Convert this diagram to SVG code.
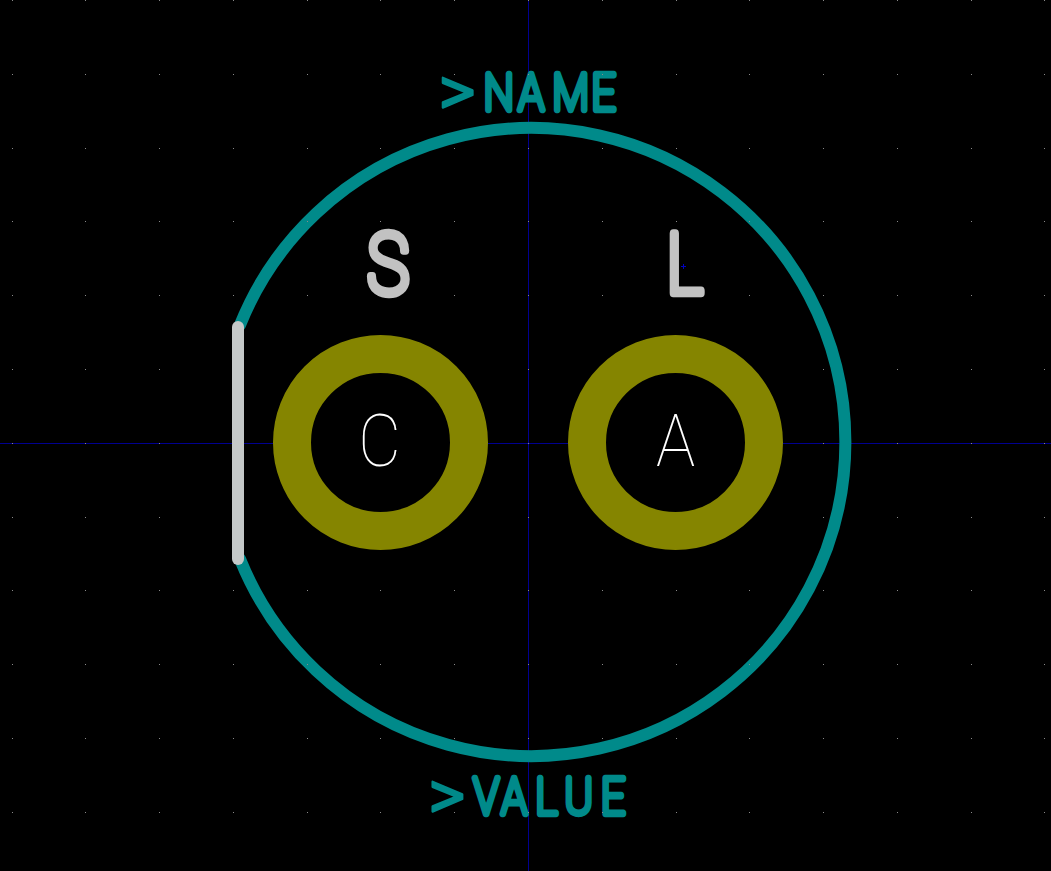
<svg xmlns="http://www.w3.org/2000/svg" width="1051" height="871" viewBox="0 0 1051 871">
<style>
.t{font-family:Roboto,"Liberation Sans",sans-serif;font-weight:100;fill:#008a8a;stroke:#008a8a;stroke-width:6;stroke-linejoin:round;stroke-linecap:round;vector-effect:non-scaling-stroke;font-size:50px}
.gt{font-family:"DejaVu Sans",sans-serif;font-weight:400;font-size:56px;stroke-width:2.5px}
.g{font-family:Roboto,"Liberation Sans",sans-serif;font-weight:100;fill:#c2c2c2;stroke:#c2c2c2;stroke-width:8;stroke-linejoin:round;stroke-linecap:round;vector-effect:non-scaling-stroke;font-size:83px}
.w{font-family:Roboto,"Liberation Sans",sans-serif;font-weight:100;fill:#fff;font-size:73px}
.pad{fill:#000;stroke:#858500;stroke-width:38}
</style>
<defs><path id="row" fill="#8a8a8a" d="M12 0h1v1h-1zM85 0h1v1h-1zM159 0h1v1h-1zM233 0h1v1h-1zM307 0h1v1h-1zM380 0h1v1h-1zM454 0h1v1h-1zM528 0h1v1h-1zM602 0h1v1h-1zM676 0h1v1h-1zM749 0h1v1h-1zM823 0h1v1h-1zM897 0h1v1h-1zM971 0h1v1h-1zM1044 0h1v1h-1z"/></defs>
<rect width="1051" height="871" fill="#000"/>
<g id="axes">
<rect x="0" y="443" width="1051" height="1" fill="#000090"/>
<rect x="528" y="0" width="1" height="871" fill="#000090"/>
</g>
<g id="outline">
<path d="M240 325A314 314 0 1 1 240 559" fill="none" stroke="#008a8a" stroke-width="12" stroke-linecap="round"/>
</g>
<g id="labels">
<text class="t" transform="scale(.85,1)" y="110" x="515 569 610 650 696"><tspan class="gt">&gt;</tspan>NAME</text>
<text class="t" transform="scale(.85,1)" y="814" x="503 557 590 630 664 707"><tspan class="gt">&gt;</tspan>VALUE</text>
</g>
<g id="grid">
<use href="#row" y="0"/><use href="#row" y="74"/><use href="#row" y="148"/><use href="#row" y="221"/><use href="#row" y="295"/><use href="#row" y="369"/><use href="#row" y="443"/><use href="#row" y="517"/><use href="#row" y="590"/><use href="#row" y="664"/><use href="#row" y="738"/><use href="#row" y="812"/>
</g>
<g id="pad-c"><circle class="pad" cx="380.5" cy="442.5" r="88.5"/><text class="w" transform="scale(.9,1)" x="398" y="466">C</text></g>
<g id="pad-a"><circle class="pad" cx="675.5" cy="442.5" r="88.5"/><text class="w" transform="scale(.9,1)" x="729" y="466">A</text></g>
<g id="silk">
<path d="M238 327V559" fill="none" stroke="#c4c8c8" stroke-width="12" stroke-linecap="round"/>
<text class="g" transform="scale(.85,1)" y="293" x="432">S</text>
<text class="g" transform="scale(.85,1)" y="293" x="784">L</text>
</g>
<g id="anchor"><rect x="681" y="266" width="5" height="1" fill="#0000c0"/><rect x="683" y="264" width="1" height="5" fill="#0000c0"/></g>
</svg>
